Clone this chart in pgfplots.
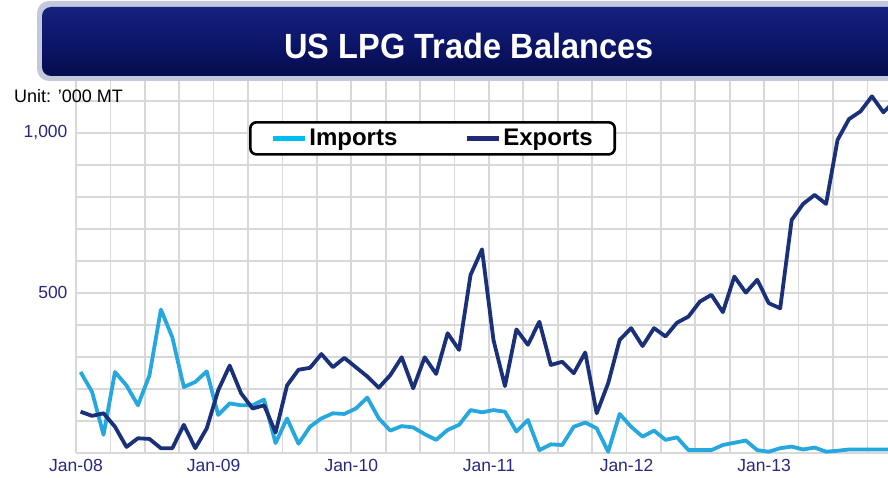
\documentclass[border=0pt]{standalone}
\usepackage{pgfplots}
\pgfplotsset{compat=1.18}
\usepackage{pgfplotstable}
\usepackage{fontspec}
\setmainfont{Liberation Sans}
\newfontfamily\titlefont[FakeStretch=0.93]{Liberation Sans}

\definecolor{impline}{RGB}{38,168,222}
\definecolor{impleg}{RGB}{0,190,240}
\definecolor{expline}{RGB}{26,48,120}
\definecolor{expleg}{RGB}{36,42,122}
\definecolor{ticknavy}{RGB}{40,40,125}
\definecolor{gridgray}{RGB}{216,216,216}
\definecolor{bannertop}{RGB}{22,32,128}
\definecolor{bannermid}{RGB}{12,22,105}
\definecolor{bannerbot}{RGB}{6,12,78}
\definecolor{bannerrim}{RGB}{196,200,220}

% monthly values, '000 MT; m = months since Jan-08
\pgfplotstableread{
m imp exp
0 253 129
1 191 116
2 57 124
3 253 82
4 211 19
5 149 46
6 242 44
7 448 15
8 361 15
9 206 88
10 222 15
11 255 77
12 119 196
13 155 273
14 149 186
15 149 139
16 167 149
17 31 64
18 108 211
19 29 260
20 82 266
21 108 309
22 124 268
23 122 297
24 139 268
25 173 239
26 108 204
27 70 243
28 84 299
29 80 202
30 59 299
31 41 247
32 72 374
33 88 322
34 134 556
35 127 636
36 134 353
37 129 209
38 67 386
39 103 338
40 9 410
41 27 275
42 25 285
43 82 249
44 95 314
45 77 124
46 4 218
47 122 353
48 82 390
49 51 334
50 70 390
51 41 364
52 49 407
53 9 426
54 9 473
55 9 494
56 25 440
57 32 551
58 39 501
59 9 541
60 4 468
61 15 452
62 20 728
63 11 778
64 17 806
65 4 778
66 7 978
67 11 1043
68 11 1067
69 11 1114
70 11 1064
71 11 1100
}\lpg

\begin{document}
\begin{tikzpicture}[x=1pt,y=1pt]
\useasboundingbox (0,0) rectangle (888,477);
\begin{axis}[at={(76pt,24pt)},anchor=south west,scale only axis,
 width=812pt,height=373pt,
 xmin=0,xmax=70.8,ymin=0,ymax=1165,
 axis line style={draw=none},major tick length=0pt,minor tick length=0pt,
 xtick={0,12,...,60},xticklabels={Jan-08,Jan-09,Jan-10,Jan-11,Jan-12,Jan-13},
 minor xtick={0,3,...,69},
 ytick={0,100,...,1100},yticklabels={,,,,,500,,,,,{1{,}000},},
 grid=both,grid style={gridgray,line width=1.7pt},minor grid style={gridgray,line width=1.7pt},
 tick label style={font=\fontsize{17.5}{18}\selectfont,text=ticknavy},
 yticklabel style={xshift=-5pt},xticklabel style={yshift=-3pt},
 legend image code/.code={\draw[#1,line width=5pt] (0pt,0pt) -- (32pt,0pt);},
 legend style={at={(0.2131,0.890)},anchor=north west,draw=black,line width=2.6pt,
  rounded corners=6pt,fill=white,inner xsep=20pt,inner ysep=5pt,
  font=\fontsize{24}{26}\selectfont\bfseries,nodes={inner sep=2pt},
  /tikz/every even column/.append style={column sep=65pt}},
 legend columns=2]
\addplot[impline,line width=3.8pt,line join=round,forget plot]
 table[x expr=\thisrow{m}+0.4,y=imp] {\lpg};
\addplot[expline,line width=3.8pt,line join=round,forget plot]
 table[x expr=\thisrow{m}+0.4,y=exp] {\lpg};
\addlegendimage{impleg}
\addlegendentry{Imports}
\addlegendimage{expleg}
\addlegendentry{Exports}
\end{axis}
% title banner
\fill[bannerrim,rounded corners=12pt] (37,396) rectangle (940,476);
\shade[top color=bannertop,bottom color=bannerbot,middle color=bannermid,rounded corners=9pt]
 (42,401) rectangle (940,470);
\node[text=white,font=\titlefont\bfseries\fontsize{35}{35}\selectfont] at (469,431) {US LPG Trade Balances};
\node[anchor=west,inner sep=0pt,font=\fontsize{18}{18}\selectfont] at (14,381) {Unit: ’000 MT};
\end{tikzpicture}
\end{document}
